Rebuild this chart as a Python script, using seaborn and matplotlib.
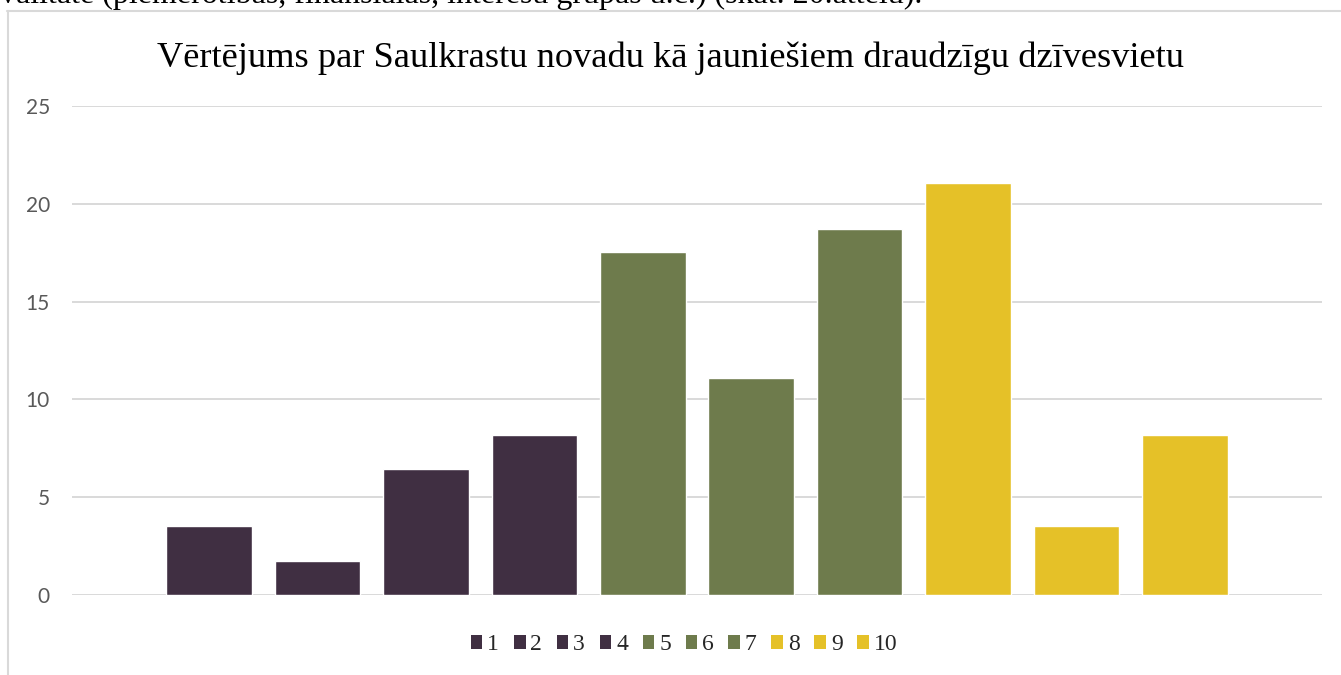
import matplotlib
matplotlib.use("Agg")
import matplotlib.pyplot as plt
from matplotlib.patches import Patch
import seaborn as sns
import pandas as pd

# Ratings 1-10 and share of respondents (%) giving each rating
ratings = ["1", "2", "3", "4", "5", "6", "7", "8", "9", "10"]
shares = [3.51, 1.75, 6.43, 8.19, 17.54, 11.11, 18.71, 21.05, 3.51, 8.19]
colors = ["#402F42", "#402F42", "#402F42", "#402F42",
          "#6E7B4C", "#6E7B4C", "#6E7B4C",
          "#E5C128", "#E5C128", "#E5C128"]
yticks = [0, 5, 10, 15, 20, 25]

title = "Vērtējums par Saulkrastu novadu kā jauniešiem draudzīgu dzīvesvietu"
preceding_line = ("kvalitāte (piemērotības, finansiālas, interešu grupas u.c.) "
                  "(skat. 20.attēlu).")

sns.set_theme(style="white")
plt.rcParams["font.family"] = ["Liberation Serif", "DejaVu Serif"]

df = pd.DataFrame({"rating": ratings, "share": shares})

fig = plt.figure(figsize=(13.41, 6.75), dpi=100)
fig.patch.set_facecolor("white")

# Chart frame (top and left edges of the embedded chart box)
fig.add_artist(plt.Line2D([7 / 1341, 1341 / 1341], [1 - 10.5 / 675, 1 - 10.5 / 675],
                          color="#D9D9D9", lw=1.5))
fig.add_artist(plt.Line2D([8 / 1341, 8 / 1341], [0, 1 - 10.5 / 675],
                          color="#D9D9D9", lw=1.5))

# Line of document text above the chart, mostly cut off at the top edge
fig.text(-0.012, 1 - 2.5 / 675, preceding_line, fontsize=23, color="black",
         ha="left", va="baseline", family="Liberation Serif")

ax = fig.add_axes([72 / 1341, 80 / 675, 1250 / 1341, 489 / 675])
sns.barplot(data=df, x="rating", y="share", hue="rating", palette=colors,
            order=ratings, hue_order=ratings, width=0.79, dodge=False,
            legend=False, saturation=1, ax=ax)

ax.set_xlim(-1.265, 10.265)
ax.set_ylim(0, 25)
ax.set_yticks(yticks)
ax.set_yticklabels([str(t) for t in yticks], family="Lato", fontsize=15,
                   color="#595959")
ax.tick_params(axis="y", length=0, pad=16)
ax.set_xticks([])
ax.set_xlabel("")
ax.set_ylabel("")
ax.grid(axis="y", color="#D9D9D9", lw=1.4)
ax.set_axisbelow(True)
for s in ax.spines.values():
    s.set_visible(False)

fig.text(670.5 / 1341, 1 - 58 / 675, title, fontsize=26.2, color="black",
         ha="center", va="center", family="Liberation Serif")

handles = [Patch(facecolor=c, edgecolor="none") for c in colors]
fig.legend(handles, ratings, loc="center", bbox_to_anchor=(684 / 1341, 1 - 645 / 675),
           ncol=10, frameon=False, handlelength=0.5,
           handleheight=0.5, handletextpad=0.2, columnspacing=0.62,
           prop={"family": "Liberation Serif", "size": 17})

fig.savefig("out.png", dpi=100, facecolor="white")
